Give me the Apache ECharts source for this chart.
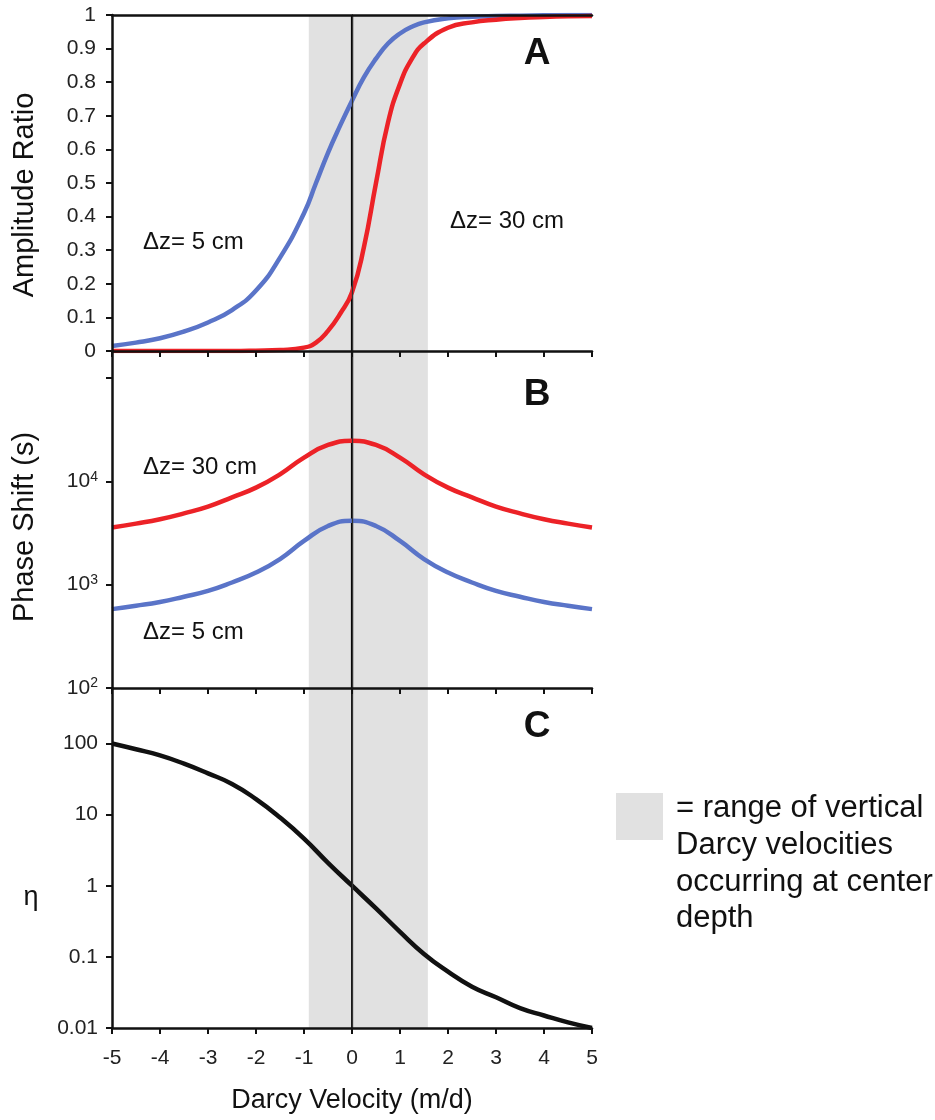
<!DOCTYPE html>
<html>
<head>
<meta charset="utf-8">
<script src="https://cdn.jsdelivr.net/npm/echarts@6/dist/echarts.min.js"></script>
<style>
html,body{margin:0;padding:0;background:#fff;}
#chart{width:935px;height:1120px;}
</style>
</head>
<body>
<div id="chart"></div>
<script>
// ---------- DATA ----------
const velA = [-5,-4.5,-4,-3.5,-3,-2.5,-2,-1.5,-1,-0.75,-0.5,-0.25,0,0.25,0.5,0.75,1,1.25,1.5,2,2.5,3,3.5,4,4.5,5];
const amp5cm  = [0.015,0.025,0.038,0.058,0.085,0.122,0.18,0.278,0.41,0.50,0.59,0.67,0.745,0.815,0.87,0.915,0.945,0.965,0.978,0.99,0.995,0.997,0.998,0.999,1.0,1.0];
const amp30cm = [0,0,0,0,0,0,0.001,0.003,0.01,0.025,0.06,0.11,0.175,0.31,0.5,0.68,0.795,0.87,0.915,0.962,0.978,0.986,0.991,0.994,0.996,0.997];

const velB = [-5,-4.5,-4,-3.5,-3,-2.5,-2,-1.5,-1,-0.5,0,0.5,1,1.5,2,2.5,3,3.5,4,4.5,5];
const phase30cm = [3580,3900,4300,4900,5700,7000,8700,11700,17000,22500,24700,22500,17000,11700,8700,7000,5700,4900,4300,3900,3580];
const phase5cm  = [580,625,680,765,870,1050,1310,1770,2650,3700,4150,3700,2650,1770,1310,1050,870,765,680,625,580];

const velC = [-5,-4.5,-4,-3.5,-3,-2.5,-2,-1.5,-1,-0.5,0,0.5,1,1.5,2,2.5,3,3.5,4,4.5,5];
const eta = [100,83,68,52,38,27,16.5,9.1,4.6,2.1,1,0.48,0.225,0.11,0.062,0.038,0.027,0.019,0.015,0.012,0.01];

const xTicks = [-5,5,1];            // min, max, interval
const ampTicks = [0,1,0.1];
const phaseDecades = [2,3,4];       // labelled powers of ten
const etaTickLabels = ['0.01','0.1','1','10','100'];
const bandRange = [-0.9,1.58];

// ---------- STYLE ----------
const FONT = 'Liberation Sans, Arial, Helvetica, sans-serif';
const BLUE = '#5a74c8';
const RED = '#ec2227';
const BAND = '#e1e1e1';

const pair = (xs, ys, f) => xs.map((x,i)=>[x, f ? f(ys[i]) : ys[i]]);
const lg = v => Math.log10(v);

const chart = echarts.init(document.getElementById('chart'), null, {renderer:'canvas'});

const gridL = 112, gridW = 480;
const grids = [
  {left:gridL, width:gridW, top:15, height:336},
  {left:gridL, width:gridW, top:351, height:337},
  {left:gridL, width:gridW, top:688, height:340}
];

function xAxisFor(i, showLabels){
  return {
    type:'value', gridIndex:i, min:xTicks[0], max:xTicks[1], interval:xTicks[2],
    position:'bottom', z:10,
    axisLine:{show:true, onZero:false, lineStyle:{color:'#111', width:2.5}},
    axisTick:{show:true, inside:false, length:6, lineStyle:{color:'#111', width:2}},
    axisLabel:{show:showLabels, color:'#222', fontFamily:FONT, fontSize:21, margin:20},
    splitLine:{show:false}
  };
}
function rightBorder(i){
  return {type:'value', gridIndex:i, position:'right', min:0, max:1, z:10,
    axisLine:{show:true, lineStyle:{color:'#333', width:1.3}},
    axisTick:{show:false}, axisLabel:{show:false}, splitLine:{show:false}};
}
const isInt = v => Math.abs(v-Math.round(v))<1e-6;

const yBase = {
  z:10,
  axisLine:{show:true, onZero:false, lineStyle:{color:'#111', width:2.5}},
  axisTick:{show:true, length:6, lineStyle:{color:'#111', width:2}},
  splitLine:{show:false}
};

const option = {
  animation:false,
  backgroundColor:'#fff',
  grid:grids,
  xAxis:[
    xAxisFor(0,false), xAxisFor(1,false), xAxisFor(2,true),
    {type:'value', gridIndex:0, position:'top', min:xTicks[0], max:xTicks[1], z:10,
     axisLine:{show:true, onZero:false, lineStyle:{color:'#111', width:2.5}},
     axisTick:{show:false}, axisLabel:{show:false}, splitLine:{show:false}}
  ],
  yAxis:[
    Object.assign({type:'value', gridIndex:0, min:ampTicks[0], max:ampTicks[1], interval:ampTicks[2],
     axisLabel:{color:'#222', fontFamily:FONT, fontSize:21, margin:16,
       formatter: v => (Math.round(v*10)/10).toString()}}, yBase),
    Object.assign({type:'value', gridIndex:1, min:2, max:5.262, interval:1,
     axisLabel:{color:'#222', fontFamily:FONT, fontSize:21, margin:14,
       formatter: v => (isInt(v) && phaseDecades.indexOf(Math.round(v))>=0) ? '{b|10}{s|'+Math.round(v)+'}' : '',
       rich:{b:{fontSize:21, fontFamily:FONT, color:'#222'},
             s:{fontSize:14, fontFamily:FONT, color:'#222', padding:[0,0,9,0]}}}}, yBase),
    Object.assign({type:'value', gridIndex:2, min:-2, max:2.78, interval:1,
     axisLabel:{color:'#222', fontFamily:FONT, fontSize:21, margin:14,
       formatter: v => isInt(v) ? (etaTickLabels[Math.round(v)+2] || '') : ''}}, yBase),
    rightBorder(0), rightBorder(1), rightBorder(2)
  ],
  series:[]
};

// background band + zero line for each panel
[0,1,2].forEach(i=>{
  option.series.push({
    type:'line', xAxisIndex:i, yAxisIndex:i, data:[], z:1, silent:true,
    markArea:{silent:true, itemStyle:{color:BAND}, data:[[{xAxis:bandRange[0]},{xAxis:bandRange[1]}]]},
    markLine:{silent:true, symbol:'none', label:{show:false},
      lineStyle:{color:'#000', width: i===2 ? 1.8 : 2.2, type:'solid'}, data:[{xAxis:0}]}
  });
});

function curve(i, data, color){
  return {type:'line', xAxisIndex:i, yAxisIndex:i, data:data, z:5,
    smooth:0.5, showSymbol:false, symbol:'none',
    lineStyle:{color:color, width:4.5}, silent:true};
}
option.series.push(curve(0, pair(velA, amp5cm), BLUE));
option.series.push(curve(0, pair(velA, amp30cm), RED));
option.series.push(curve(1, pair(velB, phase30cm, lg), RED));
option.series.push(curve(1, pair(velB, phase5cm, lg), BLUE));
option.series.push(curve(2, pair(velC, eta, lg), '#111'));

const txt = (x,y,text,opts) => Object.assign({type:'text', x:x, y:y,
  style:Object.assign({text:text, fill:'#111', font:'24px '+FONT, textAlign:'left', textVerticalAlign:'middle'}, opts||{})});

option.graphic = [
  // panel letters
  txt(537,54,'A',{font:'bold 37px '+FONT, textAlign:'center'}),
  txt(537,395,'B',{font:'bold 37px '+FONT, textAlign:'center'}),
  txt(537,727,'C',{font:'bold 37px '+FONT, textAlign:'center'}),
  // annotations
  txt(143,242,'Δz= 5 cm'),
  txt(450,221,'Δz= 30 cm'),
  txt(143,467,'Δz= 30 cm'),
  txt(143,632,'Δz= 5 cm'),
  // axis titles
  {type:'text', x:25, y:195, rotation:Math.PI/2,
   style:{text:'Amplitude Ratio', fill:'#111', font:'29px '+FONT, textAlign:'center', textVerticalAlign:'middle'}},
  {type:'text', x:25, y:527, rotation:Math.PI/2,
   style:{text:'Phase Shift (s)', fill:'#111', font:'29px '+FONT, textAlign:'center', textVerticalAlign:'middle'}},
  txt(31,898,'η',{font:'27px '+FONT, textAlign:'center'}),
  txt(352,1101,'Darcy Velocity (m/d)',{font:'27px '+FONT, textAlign:'center'}),
  // legend for shaded band
  {type:'rect', shape:{x:616, y:793, width:47, height:47}, style:{fill:BAND}},
  txt(676,808,'= range of vertical',{font:'31px '+FONT}),
  txt(676,845,'Darcy velocities',{font:'31px '+FONT}),
  txt(676,882,'occurring at center',{font:'31px '+FONT}),
  txt(676,918,'depth',{font:'31px '+FONT})
];

chart.setOption(option);
</script>
</body>
</html>
